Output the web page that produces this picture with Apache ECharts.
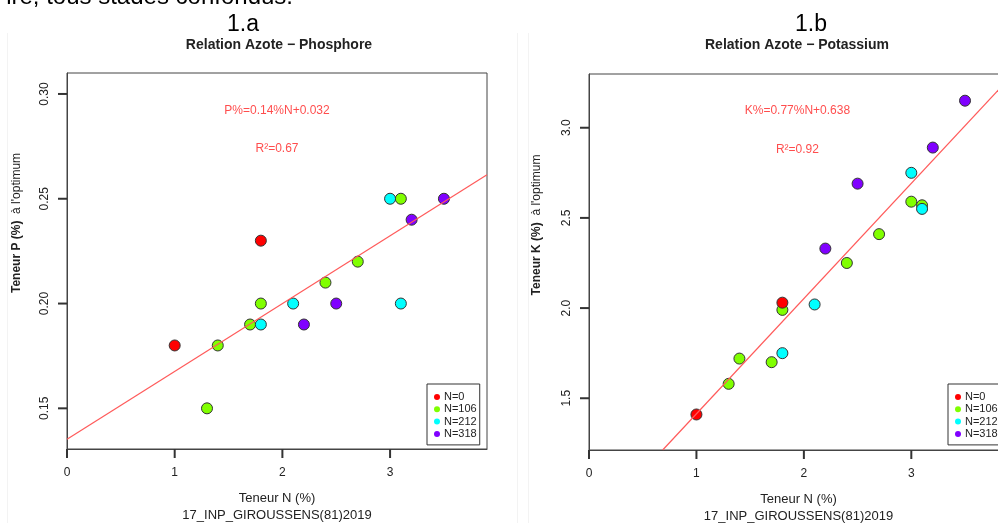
<!DOCTYPE html>
<html>
<head>
<meta charset="utf-8">
<script src="https://cdn.jsdelivr.net/npm/echarts@6/dist/echarts.min.js"></script>
<style>
  html, body { margin: 0; padding: 0; background: #fff; }
  #chart { width: 998px; height: 523px; }
</style>
</head>
<body>
<div id="chart"></div>
<script>
// groups and colours (R rainbow(4))
const groups = ['N=0', 'N=106', 'N=212', 'N=318'];
const colors = ['#FF0000', '#80FF00', '#00FFFF', '#8000FF'];

// 1.a  N (%) vs P (%)
const pN0   = [[1.0, 0.18], [1.8, 0.23]];
const pN106 = [[1.3, 0.15], [1.4, 0.18], [1.7, 0.19], [1.8, 0.20], [2.4, 0.21], [2.7, 0.22], [3.1, 0.25]];
const pN212 = [[1.8, 0.19], [2.1, 0.20], [3.0, 0.25], [3.1, 0.20]];
const pN318 = [[2.2, 0.19], [2.5, 0.20], [3.2, 0.24], [3.5, 0.25]];
const pFit  = [[0, 0.1353], [3.9, 0.2615]];
const pText = [[1.95, 0.2922, 'P%=0.14%N+0.032'], [1.95, 0.2737, 'R²=0.67']];

// 1.b  N (%) vs K (%)
const kN0   = [[1.0, 1.41], [1.8, 2.03]];
const kN106 = [[1.3, 1.58], [1.4, 1.72], [1.7, 1.70], [1.8, 1.99], [2.4, 2.25], [2.7, 2.41], [3.0, 2.59], [3.1, 2.57]];
const kN212 = [[1.8, 1.75], [2.1, 2.02], [3.0, 2.75], [3.1, 2.55]];
const kN318 = [[2.2, 2.33], [2.5, 2.69], [3.2, 2.89], [3.5, 3.15]];
const kFit  = [[0.686, 1.213], [3.9, 3.267]];
const kText = [[1.94, 3.094, 'K%=0.77%N+0.638'], [1.94, 2.88, 'R²=0.92']];

// axis ranges and ticks
const xRange  = [0, 3.9];
const yRangeP = [0.1306, 0.310];
const yRangeK = [1.213, 3.298];
const xTicks  = [0, 1, 2, 3];
const yTicksP = [0.15, 0.20, 0.25, 0.30];
const yTicksK = [1.5, 2.0, 2.5, 3.0];

const font = 'Liberation Sans, Arial, sans-serif';
const axisGrey = '#444';

function xAxisFor(gridIndex) {
  return {
    gridIndex: gridIndex,
    type: 'value',
    min: xRange[0],
    max: xRange[1],
    splitLine: { show: false },
    axisLine: { show: true, onZero: false, lineStyle: { color: axisGrey, width: 1 } },
    axisTick: { show: false },
    axisLabel: { customValues: xTicks, margin: 18, fontSize: 12, color: '#222', fontFamily: font },
    name: 'Teneur N (%)\n17_INP_GIROUSSENS(81)2019',
    nameLocation: 'middle',
    nameGap: 41,
    nameTextStyle: { fontSize: 13, lineHeight: 17, color: '#222', fontFamily: font }
  };
}

function yAxisFor(gridIndex, range, ticks) {
  return {
    gridIndex: gridIndex,
    type: 'value',
    min: range[0],
    max: range[1],
    splitLine: { show: false },
    axisLine: { show: true, onZero: false, lineStyle: { color: axisGrey, width: 1 } },
    axisTick: { show: false },
    axisLabel: {
      customValues: ticks, rotate: 90, margin: 16, fontSize: 12, color: '#222', fontFamily: font,
      formatter: function (v) { return gridIndex === 0 ? v.toFixed(2) : v.toFixed(1); }
    }
  };
}

// R-style outward ticks: thin rect symbols placed through the axis scales
function tickSeries(gridIndex, ticks, dir, yMin) {
  return {
    type: 'scatter',
    xAxisIndex: gridIndex,
    yAxisIndex: gridIndex,
    silent: true,
    clip: false,
    z: 6,
    data: ticks.map(function (v) { return dir === 'x' ? [v, yMin] : [xRange[0], v]; }),
    symbol: 'rect',
    symbolSize: dir === 'x' ? [2, 9] : [9, 2],
    symbolOffset: dir === 'x' ? [0, 4.5] : [-4.5, 0],
    itemStyle: { color: '#333', opacity: 1 },
    emphasis: { disabled: true }
  };
}

function pointSeries(name, data, idx, gridIndex, z) {
  return {
    name: name,
    type: 'scatter',
    xAxisIndex: gridIndex,
    yAxisIndex: gridIndex,
    data: data,
    symbolSize: 11,
    z: z,
    itemStyle: { color: colors[idx], borderColor: '#333', borderWidth: 1, opacity: 1 },
    emphasis: { disabled: true }
  };
}

function fitSeries(data, gridIndex) {
  return {
    type: 'line',
    xAxisIndex: gridIndex,
    yAxisIndex: gridIndex,
    data: data,
    symbol: 'none',
    z: 5,
    lineStyle: { color: '#ff5a5a', width: 1.2 },
    silent: true
  };
}

function textSeries(data, gridIndex) {
  return {
    type: 'scatter',
    xAxisIndex: gridIndex,
    yAxisIndex: gridIndex,
    data: data,
    symbolSize: 0,
    silent: true,
    label: {
      show: true, position: 'inside', color: '#ff2020', fontSize: 12, fontFamily: font,
      formatter: function (p) { return p.data[2]; }
    }
  };
}

function legendFor(left) {
  return {
    data: groups,
    orient: 'vertical',
    left: left,
    top: 384,
    icon: 'circle',
    itemWidth: 6,
    itemHeight: 6,
    itemGap: 0.3,
    padding: [7, 3, 5, 7],
    borderColor: '#333',
    borderWidth: 1,
    backgroundColor: '#fff',
    selectedMode: false,
    itemStyle: { borderWidth: 0 },
    textStyle: { fontSize: 11, lineHeight: 12, color: '#222', fontFamily: font, padding: [0, 0, 0, -1] }
  };
}

function yTitle(x, y, main) {
  return {
    type: 'text',
    x: x,
    y: y,
    rotation: Math.PI / 2,
    style: {
      text: '{b|' + main + '}  {r|à l\'optimum}',
      align: 'center',
      verticalAlign: 'middle',
      rich: {
        b: { fontSize: 12, fontWeight: 'bold', fill: '#222', fontFamily: font },
        r: { fontSize: 12, fill: '#222', fontFamily: font }
      }
    }
  };
}

const chart = echarts.init(document.getElementById('chart'));
chart.setOption({
  backgroundColor: '#fff',
  animation: false,
  title: [
    { text: '1.a', left: 238, top: 8, textAlign: 'center', textStyle: { fontSize: 23, fontWeight: 'normal', color: '#000', fontFamily: font } },
    { text: 'Relation Azote − Phosphore', left: 274, top: 33, textAlign: 'center', textStyle: { fontSize: 14, fontWeight: 'bold', color: '#222', fontFamily: font } },
    { text: '1.b', left: 806, top: 8, textAlign: 'center', textStyle: { fontSize: 23, fontWeight: 'normal', color: '#000', fontFamily: font } },
    { text: 'Relation Azote − Potassium', left: 792, top: 33, textAlign: 'center', textStyle: { fontSize: 14, fontWeight: 'bold', color: '#222', fontFamily: font } }
  ],
  grid: [
    { left: 67, top: 73, width: 420, height: 376, outerBoundsMode: 'none', show: true, borderColor: axisGrey, borderWidth: 1, backgroundColor: 'transparent' },
    { left: 589, top: 74, width: 419, height: 376, outerBoundsMode: 'none', show: true, borderColor: axisGrey, borderWidth: 1, backgroundColor: 'transparent' }
  ],
  xAxis: [xAxisFor(0), xAxisFor(1)],
  yAxis: [yAxisFor(0, yRangeP, yTicksP), yAxisFor(1, yRangeK, yTicksK)],
  legend: [legendFor(427), legendFor(948)],
  graphic: [
    { type: 'line', shape: { x1: 7.5, y1: 33, x2: 7.5, y2: 523 }, style: { stroke: '#f3f3f3', lineWidth: 1 }, silent: true },
    { type: 'line', shape: { x1: 517.5, y1: 33, x2: 517.5, y2: 523 }, style: { stroke: '#f3f3f3', lineWidth: 1 }, silent: true },
    { type: 'line', shape: { x1: 528.5, y1: 33, x2: 528.5, y2: 523 }, style: { stroke: '#f3f3f3', lineWidth: 1 }, silent: true },
    { type: 'text', x: 293, y: -15, style: { text: 'ire, tous stades confondus.', font: '24px ' + font, fill: '#000', align: 'right', verticalAlign: 'top' }, silent: true },
    yTitle(17, 223, 'Teneur P (%)'),
    yTitle(537, 225, 'Teneur K (%)')
  ],
  series: [
    tickSeries(0, xTicks, 'x', yRangeP[0]),
    tickSeries(0, yTicksP, 'y'),
    pointSeries(groups[1], pN106, 1, 0, 2),
    pointSeries(groups[2], pN212, 2, 0, 2),
    pointSeries(groups[3], pN318, 3, 0, 2),
    pointSeries(groups[0], pN0, 0, 0, 3),
    fitSeries(pFit, 0),
    textSeries(pText, 0),
    tickSeries(1, xTicks, 'x', yRangeK[0]),
    tickSeries(1, yTicksK, 'y'),
    pointSeries(groups[1], kN106, 1, 1, 2),
    pointSeries(groups[2], kN212, 2, 1, 2),
    pointSeries(groups[3], kN318, 3, 1, 2),
    pointSeries(groups[0], kN0, 0, 1, 3),
    fitSeries(kFit, 1),
    textSeries(kText, 1)
  ]
});
window.onresize = function () {
  chart.resize();
};
</script>
</body>
</html>
